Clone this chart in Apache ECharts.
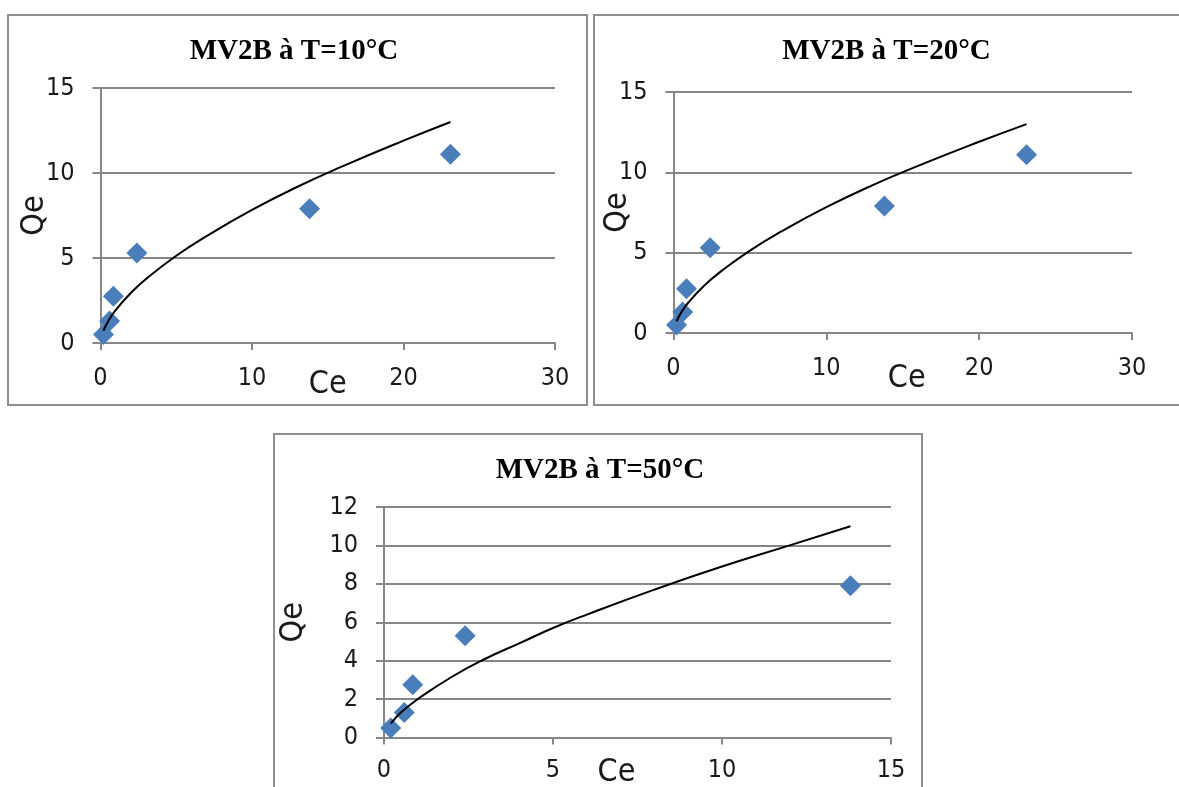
<!DOCTYPE html>
<html>
<head>
<meta charset="utf-8">
<script src="https://cdn.jsdelivr.net/npm/echarts@6/dist/echarts.min.js"></script>
<style>
  html, body { margin: 0; padding: 0; background: #ffffff; }
  #chart { width: 1179px; height: 787px; }
</style>
</head>
<body>
<div id="chart"></div>
<script>
// Measured equilibrium points (Ce, Qe) for MV2B at 10 °C and 20 °C
const ceObs = [0.2, 0.6, 0.85, 2.4, 13.8, 23.1];
const qeObs = [0.5, 1.3, 2.75, 5.3, 7.9, 11.1];
// Measured points at 50 °C
const ceObs50 = [0.2, 0.6, 0.85, 2.4, 13.8];
const qeObs50 = [0.5, 1.3, 2.75, 5.3, 7.9];
// Fitted isotherm curve (10 °C and 20 °C)
const ceFit = [0.2, 0.5, 1, 2, 3, 5, 7, 10, 13, 16, 20, 23.1];
const qeFit = [0.73, 1.27, 1.93, 2.94, 3.76, 5.13, 6.29, 7.83, 9.19, 10.4, 11.9, 13.0];
// Fitted isotherm curve (50 °C)
const ceFit50 = [0.2, 0.5, 1, 2, 3, 4, 5, 6, 8, 10, 12, 13.8];
const qeFit50 = [0.72, 1.3, 2.0, 3.15, 4.1, 4.9, 5.7, 6.4, 7.7, 8.9, 10.0, 11.0];

const titles = ['MV2B à T=10°C', 'MV2B à T=20°C', 'MV2B à T=50°C'];
const xName = 'Ce';
const yName = 'Qe';

const pairs = (xs, ys) => xs.map((x, i) => [x, ys[i]]);

const GRID_GRAY = '#868686';
const FRAME_GRAY = '#8e8e8e';
const LABEL_FONT = "'Liberation Sans Narrow', 'Arial Narrow', 'DejaVu Sans Condensed', sans-serif";
const TITLE_FONT = "'Liberation Serif', 'Times New Roman', serif";

// Panel layout: frame box, plot box, axis ranges and label placement
const panels = [
  { frame: [8, 15, 579, 390], grid: [100.5, 88, 454.5, 255], xMax: 30, xInt: 10, yMax: 15, yInt: 5,
    titleX: 289, titleY: 32, xNameGap: 26, xNamePad: [0, 0, 0, 0], yNameGap: 50, xLabMargin: 23,
    fit: [ceFit, qeFit], obs: [ceObs, qeObs] },
  { frame: [594, 15, 600, 390], grid: [673.5, 92, 458.5, 241], xMax: 30, xInt: 10, yMax: 15, yInt: 5,
    titleX: 881.5, titleY: 32, xNameGap: 30, xNamePad: [0, 0, 0, 8], yNameGap: 40, xLabMargin: 23,
    fit: [ceFit, qeFit], obs: [ceObs, qeObs] },
  { frame: [274, 434, 648, 400], grid: [384, 507, 507, 230.5], xMax: 15, xInt: 5, yMax: 12, yInt: 2,
    titleX: 595, titleY: 451, xNameGap: 19, xNamePad: [0, 42, 0, 0], yNameGap: 74, xLabMargin: 20,
    fit: [ceFit50, qeFit50], obs: [ceObs50, qeObs50] }
];

const chart = echarts.init(document.getElementById('chart'), null, { renderer: 'canvas' });

const option = {
  backgroundColor: '#ffffff',
  animation: false,
  title: panels.map((p, i) => ({
    text: titles[i],
    left: p.titleX,
    top: p.titleY,
    textAlign: 'center',
    textStyle: { fontFamily: TITLE_FONT, fontWeight: 'bold', fontSize: 29, color: '#000000' }
  })),
  graphic: panels.map(p => ({
    type: 'rect',
    shape: { x: p.frame[0], y: p.frame[1], width: p.frame[2], height: p.frame[3] },
    style: { fill: 'none', stroke: FRAME_GRAY, lineWidth: 2 },
    silent: true,
    z: -1
  })),
  grid: panels.map(p => ({
    left: p.grid[0], top: p.grid[1], width: p.grid[2], height: p.grid[3],
    containLabel: false, outerBoundsMode: 'none'
  })),
  xAxis: panels.map((p, i) => ({
    type: 'value',
    gridIndex: i,
    min: 0, max: p.xMax, interval: p.xInt,
    name: xName,
    nameLocation: 'middle',
    nameGap: p.xNameGap,
    nameMoveOverlap: false,
    nameTextStyle: { fontFamily: LABEL_FONT, fontSize: 32, color: '#1a1a1a', padding: p.xNamePad },
    axisLine: { show: true, onZero: false, lineStyle: { color: GRID_GRAY, width: 2 } },
    axisTick: { show: true, inside: false, length: 7, lineStyle: { color: GRID_GRAY, width: 2 } },
    axisLabel: { margin: p.xLabMargin, fontFamily: LABEL_FONT, fontSize: 25, color: '#1a1a1a' },
    splitLine: { show: false }
  })),
  yAxis: panels.map((p, i) => ({
    type: 'value',
    gridIndex: i,
    min: 0, max: p.yMax, interval: p.yInt,
    name: yName,
    nameLocation: 'middle',
    nameRotate: 90,
    nameGap: p.yNameGap,
    nameMoveOverlap: false,
    nameTextStyle: { fontFamily: LABEL_FONT, fontSize: 32, color: '#1a1a1a' },
    axisLine: { show: true, onZero: false, lineStyle: { color: GRID_GRAY, width: 2 } },
    axisTick: { show: true, inside: false, length: 8, lineStyle: { color: GRID_GRAY, width: 2 } },
    axisLabel: { margin: 26, fontFamily: LABEL_FONT, fontSize: 25, color: '#1a1a1a' },
    splitLine: { show: true, lineStyle: { color: GRID_GRAY, width: 2 } }
  })),
  series: panels.flatMap((p, i) => ([
    {
      type: 'scatter',
      xAxisIndex: i, yAxisIndex: i,
      symbol: 'diamond',
      symbolSize: 21,
      itemStyle: { color: '#4a7ebb', opacity: 1 },
      data: pairs(p.obs[0], p.obs[1]),
      z: 3
    },
    {
      type: 'line',
      xAxisIndex: i, yAxisIndex: i,
      smooth: true,
      showSymbol: false,
      symbol: 'none',
      lineStyle: { color: '#000000', width: 2 },
      data: pairs(p.fit[0], p.fit[1]),
      z: 4
    }
  ]))
};

chart.setOption(option);
</script>
</body>
</html>
